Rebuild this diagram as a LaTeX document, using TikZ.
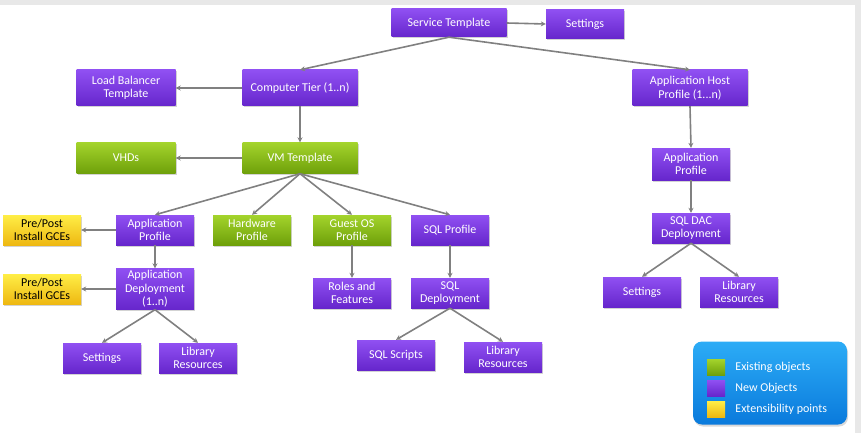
\documentclass[tikz,border=0pt]{standalone}
\usepackage{fontspec}
\setmainfont{Carlito}
\usetikzlibrary{arrows.meta, positioning, calc, shadows}

\definecolor{purpletop}{RGB}{144,80,242}
\definecolor{purplebot}{RGB}{102,38,204}
\definecolor{greentop}{RGB}{164,212,44}
\definecolor{greenbot}{RGB}{110,160,10}
\definecolor{yellowtop}{RGB}{255,238,70}
\definecolor{yellowbot}{RGB}{238,184,18}
\definecolor{legendtop}{RGB}{44,172,246}
\definecolor{legendbot}{RGB}{10,122,220}
\definecolor{linegray}{RGB}{128,128,128}
\definecolor{framegray}{RGB}{232,232,232}

\tikzset{
  box/.style={minimum width=78pt, minimum height=30pt, inner sep=1pt, align=center,
    font=\fontsize{12}{13.5}\selectfont,
    drop shadow={shadow xshift=1pt, shadow yshift=-1.5pt, opacity=0.35}},
  newobj/.style={box, top color=purpletop, bottom color=purplebot, text=white},
  existobj/.style={box, top color=greentop, bottom color=greenbot, text=white},
  extpoint/.style={box, top color=yellowtop, bottom color=yellowbot, text=black},
  conn/.style={draw=linegray, line width=1.6pt, -{Stealth[length=5pt, width=5pt]}},
  keybox/.style={minimum width=18pt, minimum height=16pt, inner sep=0pt}
}

\begin{document}
\begin{tikzpicture}[x=1pt, y=-1pt]
  \useasboundingbox (0,0) rectangle (861,433);
  % frame of the screenshot
  \fill[framegray] (0,0) rectangle (861,5);
  \fill[framegray] (855,0) rectangle (861,433);

  % top level
  \node[newobj, minimum width=115pt, minimum height=28pt] (svc) at (449,23) {Service Template};
  \node[newobj, minimum height=29pt] (svcset) at (585,24) {Settings};

  % tiers
  \node[newobj, minimum width=99pt, minimum height=36pt] (lb) at (126,88) {Load Balancer\\Template};
  \node[newobj, minimum width=115pt, minimum height=36pt] (tier) at (300,88) {Computer Tier (1..n)};
  \node[newobj, minimum width=115pt, minimum height=36pt] (hostprof) at (690,88) {Application Host\\Profile (1...n)};

  % VM template
  \node[existobj, minimum width=99pt, minimum height=31pt] (vhd) at (126,158) {VHDs};
  \node[existobj, minimum width=115pt, minimum height=31pt] (vmt) at (300,158) {VM Template};

  % profiles
  \node[extpoint] (gce1) at (42,230) {Pre/Post\\Install GCEs};
  \node[newobj] (appprof) at (155,230) {Application\\Profile};
  \node[existobj] (hwprof) at (252,230) {Hardware\\Profile};
  \node[existobj] (osprof) at (352,230) {Guest OS\\Profile};
  \node[newobj] (sqlprof) at (450,230) {SQL Profile};

  % deployments
  \node[extpoint] (gce2) at (42,289) {Pre/Post\\Install GCEs};
  \node[newobj, minimum height=41pt] (appdep) at (155,289) {Application\\Deployment\\(1..n)};
  \node[newobj] (roles) at (352,293) {Roles and\\Features};
  \node[newobj] (sqldep) at (450,293) {SQL\\Deployment};

  % leaves
  \node[newobj] (appset) at (102,358) {Settings};
  \node[newobj] (applib) at (198,358) {Library\\Resources};
  \node[newobj] (sqlscr) at (396,355) {SQL Scripts};
  \node[newobj] (sqllib) at (503,357) {Library\\Resources};

  % host side
  \node[newobj, minimum height=32pt] (hostapp) at (691,164) {Application\\Profile};
  \node[newobj] (dac) at (691,228) {SQL DAC\\Deployment};
  \node[newobj] (dacset) at (642,292) {Settings};
  \node[newobj] (daclib) at (739,292) {Library\\Resources};

  % connectors
  \draw[conn] (svc.east) -- (svcset.west);
  \draw[conn] (svc.south) -- (tier.north);
  \draw[conn] (svc.south) -- (hostprof.north);
  \draw[conn] (tier.west) -- (lb.east);
  \draw[conn] (tier.south) -- (vmt.north);
  \draw[conn] (vmt.west) -- (vhd.east);
  \draw[conn] (vmt.south) -- (appprof.north);
  \draw[conn] (vmt.south) -- (hwprof.north);
  \draw[conn] (vmt.south) -- (osprof.north);
  \draw[conn] (vmt.south) -- (sqlprof.north);
  \draw[conn] (appprof.west) -- (gce1.east);
  \draw[conn] (appprof.south) -- (appdep.north);
  \draw[conn] (appdep.west) -- (gce2.east);
  \draw[conn] (appdep.south) -- (appset.north);
  \draw[conn] (appdep.south) -- (applib.north);
  \draw[conn] (osprof.south) -- (roles.north);
  \draw[conn] (sqlprof.south) -- (sqldep.north);
  \draw[conn] (sqldep.south) -- (sqlscr.north);
  \draw[conn] (sqldep.south) -- (sqllib.north);
  \draw[conn] (hostprof.south) -- (hostapp.north);
  \draw[conn] (hostapp.south) -- (dac.north);
  \draw[conn] (dac.south) -- (dacset.north);
  \draw[conn] (dac.south) -- (daclib.north);

  % legend
  \node[rounded corners=9pt, top color=legendtop, bottom color=legendbot,
    minimum width=154pt, minimum height=83pt,
    drop shadow={shadow xshift=1pt, shadow yshift=-2pt, opacity=0.3}] (legend) at (770,383) {};
  \node[keybox, top color=greentop, bottom color=greenbot] (keyexist) at (716,367) {};
  \node[keybox, top color=purpletop, bottom color=purplebot] (keynew) at (716,388) {};
  \node[keybox, top color=yellowtop, bottom color=yellowbot] (keyext) at (716,409) {};
  \node[right=10pt of keyexist, text=white, font=\fontsize{12}{13.5}\selectfont, inner sep=0pt] (txtexist) {Existing objects};
  \node[right=10pt of keynew, text=white, font=\fontsize{12}{13.5}\selectfont, inner sep=0pt] (txtnew) {New Objects};
  \node[right=10pt of keyext, text=white, font=\fontsize{12}{13.5}\selectfont, inner sep=0pt] (txtext) {Extensibility points};
\end{tikzpicture}
\end{document}
